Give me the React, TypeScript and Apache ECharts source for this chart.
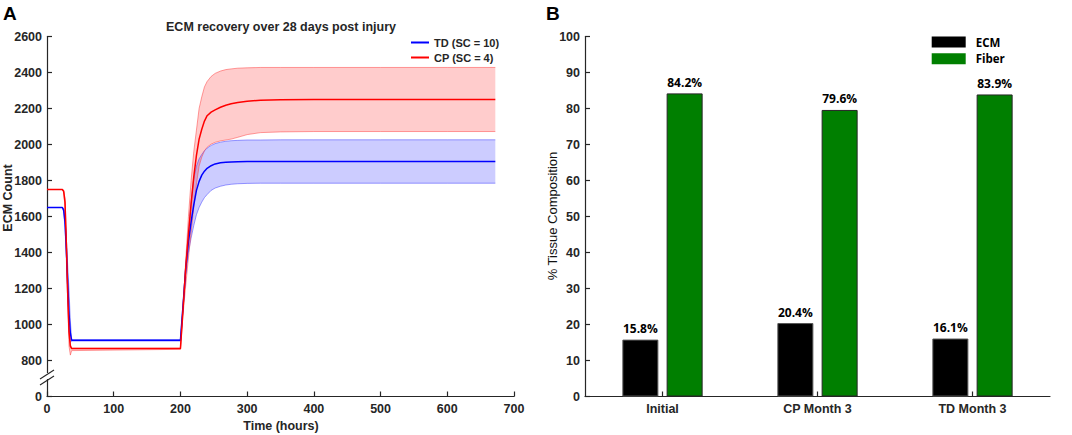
import React, { useEffect, useRef } from "react";
import * as echarts from "echarts";

// ---------- Panel A data (ECM count over time) ----------
const timeHours = [0, 23, 25, 27, 29, 31, 33, 35, 37, 200, 204, 208, 212, 216, 220, 224, 228, 232, 236, 240, 246, 252, 260, 268, 276, 286, 300, 320, 350, 400, 500, 600, 672];

const tdMean = [1650, 1650, 1635, 1570, 1420, 1230, 1060, 950, 912, 912, 1110, 1310, 1460, 1570, 1665, 1745, 1795, 1830, 1852, 1868, 1882, 1892, 1898, 1901, 1903, 1904, 1905, 1905, 1905, 1905, 1905, 1905, 1905];
const tdUpper = [1650, 1650, 1645, 1600, 1480, 1330, 1190, 1020, 915, 915, 1120, 1330, 1510, 1680, 1810, 1880, 1920, 1945, 1965, 1980, 1995, 2005, 2013, 2018, 2021, 2023, 2025, 2025, 2026, 2026, 2026, 2026, 2026];
const tdLower = [1650, 1650, 1625, 1540, 1360, 1140, 960, 900, 908, 908, 1090, 1280, 1400, 1480, 1550, 1610, 1650, 1680, 1705, 1722, 1745, 1758, 1768, 1775, 1779, 1782, 1784, 1785, 1785, 1785, 1785, 1785, 1785];

const cpMean = [1750, 1750, 1740, 1680, 1450, 1180, 960, 880, 866, 866, 1090, 1320, 1500, 1670, 1820, 1940, 2030, 2085, 2130, 2160, 2180, 2192, 2207, 2218, 2226, 2233, 2240, 2246, 2249, 2250, 2250, 2250, 2250];
const cpUpper = [1750, 1750, 1745, 1700, 1490, 1220, 990, 890, 868, 868, 1100, 1360, 1600, 1800, 1960, 2080, 2200, 2265, 2320, 2350, 2378, 2395, 2408, 2416, 2420, 2424, 2426, 2428, 2428, 2428, 2428, 2428, 2428];
const cpLower = [1750, 1750, 1735, 1650, 1400, 1120, 880, 830, 855, 862, 1060, 1220, 1370, 1510, 1650, 1780, 1880, 1930, 1965, 1985, 2002, 2012, 2020, 2025, 2030, 2040, 2055, 2066, 2070, 2072, 2072, 2072, 2072];

const tdName = "TD (SC = 10)";
const cpName = "CP (SC = 4)";

// ---------- Panel B data (tissue composition) ----------
const categories = ["Initial", "CP Month 3", "TD Month 3"];
const ecmPct = [15.8, 20.4, 16.1];
const fiberPct = [84.2, 79.6, 83.9];

const AX = "#262626";
const ARIAL = "'Liberation Sans', Arial, sans-serif";
const OPEN = "'Open Sans', 'Noto Sans', sans-serif";

function pairs(vals: number[]) {
  return timeHours.map((t, i) => [t, vals[i]]);
}

function edgeSeries(name: string, vals: number[], color: string) {
  return {
    type: "line",
    name,
    xAxisIndex: 0,
    yAxisIndex: 0,
    data: pairs(vals),
    symbol: "none",
    showSymbol: false,
    lineStyle: { color, width: 1 },
    z: 2,
    silent: true,
  };
}

function fillSeries(name: string, lo: number[], up: number[], fill: string) {
  return {
    type: "custom",
    name,
    xAxisIndex: 0,
    yAxisIndex: 0,
    data: timeHours.map((t, i) => [t, lo[i], up[i]]),
    encode: { x: 0, y: [1, 2] },
    clip: true,
    z: 1,
    silent: true,
    renderItem: (params: any, api: any) => {
      if (params.dataIndex !== 0) return { type: "group", children: [] };
      const pts: number[][] = [];
      for (let i = 0; i < timeHours.length; i++) pts.push(api.coord([timeHours[i], up[i]]));
      for (let i = timeHours.length - 1; i >= 0; i--) pts.push(api.coord([timeHours[i], lo[i]]));
      return {
        type: "polygon",
        shape: { points: pts },
        style: { fill, stroke: "none" },
      };
    },
  };
}

export default function App() {
  const ref = useRef<HTMLDivElement>(null);

  useEffect(() => {
    document.body.style.margin = "0";
    if (!ref.current) return;
    const chart = echarts.init(ref.current, null, { renderer: "svg" });

    const axisLabelBase = {
      color: AX,
      fontWeight: "bold",
      fontSize: 12.5,
      fontFamily: ARIAL,
    };
    const axisLineBase = { show: true, onZero: false, lineStyle: { color: AX, width: 1.2 } };
    const tickBase = { show: true, inside: true, length: 5, lineStyle: { color: AX, width: 1.2 } };

    const barLabel = {
      show: true,
      position: "top",
      distance: 5,
      formatter: (p: any) => Number(p.value).toFixed(1) + "%",
      fontSize: 12,
      fontWeight: "bold",
      fontFamily: OPEN,
      color: "#000",
    };

    const option: any = {
      animation: false,
      backgroundColor: "#fff",
      grid: [
        { left: 47, top: 36.5, width: 467, height: 360 },
        { left: 585, top: 36.5, width: 465, height: 360 },
      ],
      xAxis: [
        {
          type: "value",
          gridIndex: 0,
          min: 0,
          max: 700,
          interval: 100,
          axisLine: axisLineBase,
          axisTick: tickBase,
          axisLabel: { ...axisLabelBase, margin: 6 },
          splitLine: { show: false },
        },
        {
          type: "category",
          gridIndex: 1,
          data: categories,
          axisLine: axisLineBase,
          axisTick: { ...tickBase, alignWithLabel: true },
          axisLabel: { ...axisLabelBase, margin: 6 },
          splitLine: { show: false },
        },
      ],
      yAxis: [
        {
          type: "value",
          gridIndex: 0,
          min: 600,
          max: 2600,
          interval: 200,
          axisLine: axisLineBase,
          axisTick: tickBase,
          axisLabel: {
            ...axisLabelBase,
            margin: 5,
            formatter: (v: number) => (v === 600 ? "0" : String(v)),
          },
          splitLine: { show: false },
        },
        {
          type: "value",
          gridIndex: 1,
          min: 0,
          max: 100,
          interval: 10,
          axisLine: axisLineBase,
          axisTick: tickBase,
          axisLabel: { ...axisLabelBase, margin: 5 },
          splitLine: { show: false },
        },
      ],
      legend: [
        {
          data: [tdName, cpName],
          orient: "vertical",
          left: 411,
          top: 36.5,
          padding: 0,
          itemWidth: 18,
          itemHeight: 2,
          itemGap: 3,
          icon: "rect",
          textStyle: { fontSize: 11, fontWeight: "bold", fontFamily: ARIAL, color: AX, lineHeight: 12 },
        },
        {
          data: ["ECM", "Fiber"],
          orient: "vertical",
          left: 931.7,
          top: 36,
          padding: 0,
          itemWidth: 34,
          itemHeight: 11,
          itemGap: 4.7,
          icon: "rect",
          itemStyle: { borderWidth: 0 },
          textStyle: {
            fontSize: 11.5,
            fontWeight: "bold",
            fontFamily: OPEN,
            color: "#000",
            lineHeight: 11,
            padding: [0, 0, 0, 5],
          },
        },
      ],
      series: [
        fillSeries("td-fill", tdLower, tdUpper, "rgba(0,0,255,0.2)"),
        fillSeries("cp-fill", cpLower, cpUpper, "rgba(255,0,0,0.2)"),
        edgeSeries("td-lo", tdLower, "rgba(60,60,255,0.5)"),
        edgeSeries("td-up", tdUpper, "rgba(60,60,255,0.5)"),
        edgeSeries("cp-lo", cpLower, "rgba(255,60,60,0.5)"),
        edgeSeries("cp-up", cpUpper, "rgba(255,60,60,0.5)"),
        {
          type: "line",
          name: tdName,
          xAxisIndex: 0,
          yAxisIndex: 0,
          data: pairs(tdMean),
          symbol: "none",
          showSymbol: false,
          color: "#0000ff",
          lineStyle: { color: "#0000ff", width: 1.5 },
          z: 3,
        },
        {
          type: "line",
          name: cpName,
          xAxisIndex: 0,
          yAxisIndex: 0,
          data: pairs(cpMean),
          symbol: "none",
          showSymbol: false,
          color: "#ff0000",
          lineStyle: { color: "#ff0000", width: 1.5 },
          z: 4,
        },
        {
          type: "bar",
          name: "ECM",
          xAxisIndex: 1,
          yAxisIndex: 1,
          data: ecmPct,
          barWidth: 36,
          barGap: "23%",
          itemStyle: { color: "#000000", borderColor: "#555", borderWidth: 1 },
          label: barLabel,
        },
        {
          type: "bar",
          name: "Fiber",
          xAxisIndex: 1,
          yAxisIndex: 1,
          data: fiberPct,
          barWidth: 36,
          barGap: "23%",
          itemStyle: { color: "#007f00", borderColor: "#262626", borderWidth: 1 },
          label: barLabel,
        },
      ],
      graphic: [
        {
          type: "text",
          x: 3,
          y: 13,
          z: 100,
          style: { text: "A", fontSize: 19, fontWeight: "bold", fontFamily: ARIAL, fill: "#000", align: "left", verticalAlign: "middle" },
        },
        {
          type: "text",
          x: 546,
          y: 13,
          z: 100,
          style: { text: "B", fontSize: 19, fontWeight: "bold", fontFamily: ARIAL, fill: "#000", align: "left", verticalAlign: "middle" },
        },
        {
          type: "text",
          x: 281,
          y: 27,
          z: 100,
          style: { text: "ECM recovery over 28 days post injury", fontSize: 12.5, fontWeight: "bold", fontFamily: ARIAL, fill: AX, align: "center", verticalAlign: "middle" },
        },
        {
          type: "text",
          x: 8,
          y: 198,
          rotation: Math.PI / 2,
          z: 100,
          style: { text: "ECM Count", fontSize: 12.5, fontWeight: "bold", fontFamily: ARIAL, fill: AX, align: "center", verticalAlign: "middle" },
        },
        {
          type: "text",
          x: 281,
          y: 426,
          z: 100,
          style: { text: "Time (hours)", fontSize: 12.5, fontWeight: "bold", fontFamily: ARIAL, fill: AX, align: "center", verticalAlign: "middle" },
        },
        {
          type: "text",
          x: 552,
          y: 216,
          rotation: Math.PI / 2,
          z: 100,
          style: { text: "% Tissue Composition", fontSize: 13, fontWeight: "normal", fontFamily: ARIAL, fill: "#111", align: "center", verticalAlign: "middle" },
        },
        // axis break on panel A's y-axis
        {
          type: "rect",
          z: 100,
          shape: { x: 44, y: 373, width: 7, height: 6 },
          style: { fill: "#ffffff" },
        },
        {
          type: "line",
          z: 101,
          shape: { x1: 40, y1: 379, x2: 54, y2: 370 },
          style: { stroke: AX, lineWidth: 1.1 },
        },
        {
          type: "line",
          z: 101,
          shape: { x1: 40, y1: 385, x2: 54, y2: 376 },
          style: { stroke: AX, lineWidth: 1.1 },
        },
      ],
    };

    chart.setOption(option);
    return () => {
      chart.dispose();
    };
  }, []);

  return <div ref={ref} style={{ width: 1072, height: 435 }} />;
}
